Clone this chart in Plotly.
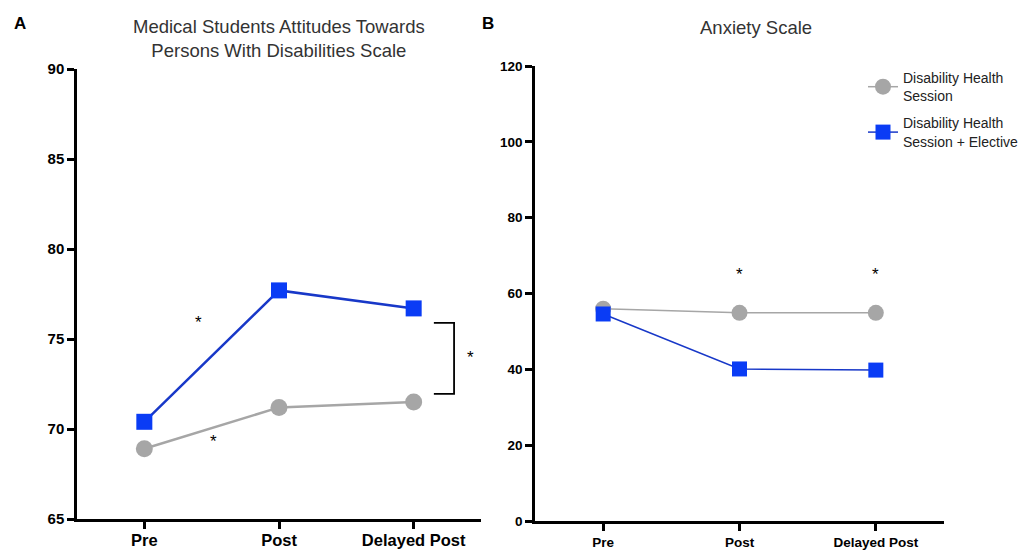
import plotly.graph_objects as go

categories = ["Pre", "Post", "Delayed Post"]
series_names = ["Disability Health<br>Session", "Disability Health<br>Session + Elective"]

# Panel A: Medical Students Attitudes Towards Persons With Disabilities Scale
mat_session = [68.9, 71.2, 71.5]
mat_elective = [70.4, 77.7, 76.7]

# Panel B: Anxiety Scale
anx_session = [56.0, 54.9, 54.9]
anx_elective = [54.6, 40.1, 39.8]

yticks_a = [65, 70, 75, 80, 85, 90]
yticks_b = [0, 20, 40, 60, 80, 100, 120]

GRAY = "#a6a6a6"
BLUE_M = "#0a3cf5"
BLUE_L = "#1838c8"
FONT = "Liberation Sans, Arial, sans-serif"

OFF = 8  # page body margin
W, H = 1026 - OFF, 550 - OFF
# plot-area edges in screen pixels
SL, SR, ST, SB = 77, 944, 66, 521
ML, MT = SL - OFF, ST - OFF
MR, MB = W - (SR - OFF), H - (SB - OFF)
PW, PH = SR - SL, SB - ST


def px(xs):
    return (xs - SL) / PW


def py(ys):
    return 1 - (ys - ST) / PH


xi = list(range(len(categories)))

fig = go.Figure()
fig.add_trace(go.Scatter(x=xi, y=mat_session, mode="lines+markers", name=series_names[0],
                         line=dict(color=GRAY, width=2.5),
                         marker=dict(symbol="circle", size=17, color=GRAY),
                         xaxis="x", yaxis="y", showlegend=False))
fig.add_trace(go.Scatter(x=xi, y=mat_elective, mode="lines+markers", name=series_names[1],
                         line=dict(color=BLUE_L, width=2.5),
                         marker=dict(symbol="square", size=16, color=BLUE_M),
                         xaxis="x", yaxis="y", showlegend=False))
fig.add_trace(go.Scatter(x=xi, y=anx_session, mode="lines+markers", name=series_names[0],
                         line=dict(color=GRAY, width=1.5),
                         marker=dict(symbol="circle", size=16, color=GRAY),
                         xaxis="x2", yaxis="y2", showlegend=True, legendgroup="g1"))
fig.add_trace(go.Scatter(x=xi, y=anx_elective, mode="lines+markers", name=series_names[1],
                         line=dict(color=BLUE_L, width=1.5),
                         marker=dict(symbol="square", size=15, color=BLUE_M),
                         xaxis="x2", yaxis="y2", showlegend=True, legendgroup="g2"))

axis_common = dict(showline=True, linecolor="black", linewidth=2.5, ticks="outside",
                   ticklen=7, tickwidth=2.5, tickcolor="black", showgrid=False,
                   zeroline=False, fixedrange=True, automargin=False)

fig.update_layout(
    width=W, height=H,
    margin=dict(l=ML, r=MR, t=MT, b=MB, autoexpand=False),
    paper_bgcolor="white", plot_bgcolor="white",
    font=dict(family=FONT, color="black"),
    xaxis=dict(domain=[px(77), px(481)], range=[-0.5, 2.5], tickvals=xi, ticktext=categories,
               tickfont=dict(size=16.5, family=FONT, color="black", weight="bold"),
               ticklabelstandoff=-3,
               anchor="y", **axis_common),
    yaxis=dict(domain=[py(519), py(69)], range=[65, 90], tickvals=yticks_a,
               tickfont=dict(size=15, family=FONT, color="black", weight="bold"),
               anchor="x", **axis_common),
    xaxis2=dict(domain=[px(535), px(944)], range=[-0.5, 2.5], tickvals=xi, ticktext=categories,
                tickfont=dict(size=13.5, family=FONT, color="black", weight="bold"),
                anchor="y2", **axis_common),
    yaxis2=dict(domain=[py(521), py(66)], range=[0, 120], tickvals=yticks_b,
                tickfont=dict(size=13.5, family=FONT, color="black", weight="bold"),
                anchor="x2", **axis_common),
    legend=dict(x=px(863), y=py(62), xanchor="left", yanchor="top",
                font=dict(size=14, family=FONT, color="#222"),
                bgcolor="rgba(0,0,0,0)", tracegroupgap=6),
)

ann = []
ann.append(dict(text="<b>A</b>", x=px(12), y=py(24), xref="paper", yref="paper",
                showarrow=False, xanchor="left", yanchor="middle", font=dict(size=17, color="black")))
ann.append(dict(text="<b>B</b>", x=px(480), y=py(24), xref="paper", yref="paper",
                showarrow=False, xanchor="left", yanchor="middle", font=dict(size=17, color="black")))
ann.append(dict(text="Medical Students Attitudes Towards<br>Persons With Disabilities Scale",
                x=px(279), y=py(38), xref="paper", yref="paper", showarrow=False,
                xanchor="center", yanchor="middle", font=dict(size=18.5, color="#333")))
ann.append(dict(text="Anxiety Scale", x=px(756), y=py(27), xref="paper", yref="paper",
                showarrow=False, xanchor="center", yanchor="middle", font=dict(size=18.5, color="#333")))
# significance stars, panel A
for (sx, sy) in [(0.40, 75.9), (0.51, 69.3), (2.42, 74.0)]:
    ann.append(dict(text="*", x=sx, y=sy, xref="x", yref="y", showarrow=False,
                    font=dict(size=17, color="black")))
# significance stars, panel B
for (sx, sy) in [(1, 65.0), (2, 65.0)]:
    ann.append(dict(text="*", x=sx, y=sy, xref="x2", yref="y2", showarrow=False,
                    font=dict(size=17, color="black")))
fig.update_layout(annotations=ann)

# bracket between groups at Delayed Post (panel A)
bx0, bx1 = 2.15, 2.30
by_top, by_bot = 75.9, 71.95
fig.add_shape(type="path",
              path=f"M {bx0} {by_top} L {bx1} {by_top} L {bx1} {by_bot} L {bx0} {by_bot}",
              xref="x", yref="y", line=dict(color="black", width=1.8))

fig.write_html("out.html")
